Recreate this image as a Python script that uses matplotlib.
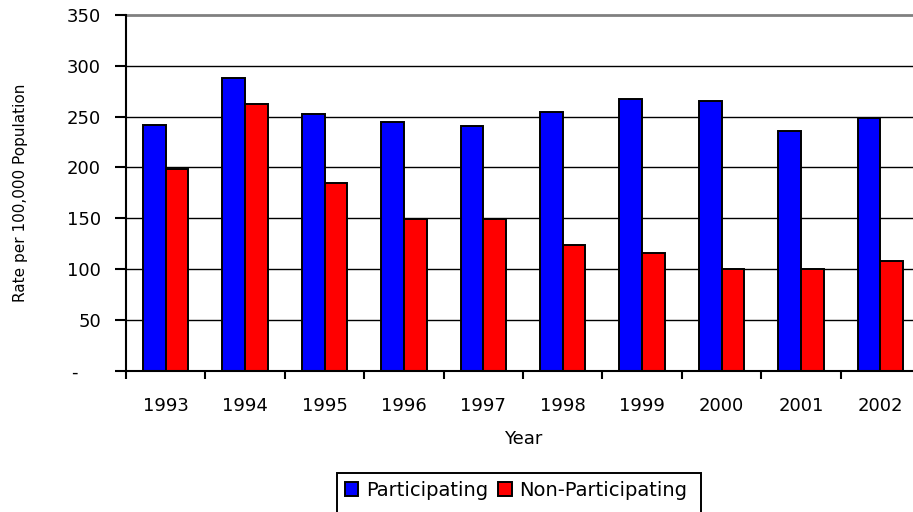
import matplotlib
matplotlib.use('Agg')
import matplotlib.pyplot as plt
from matplotlib.patches import Rectangle
import numpy as np

plt.rcParams['font.family'] = ['DejaVu Sans']

# Rates per 100,000 population by year
years = ['1993', '1994', '1995', '1996', '1997', '1998', '1999', '2000', '2001', '2002']
participating = [242, 288, 253, 245, 241, 255, 267, 265, 236, 249]
non_participating = [198, 262, 185, 149, 149, 124, 116, 100, 100, 108]

y_ticks = [0, 50, 100, 150, 200, 250, 300, 350]
y_tick_labels = ['-    ', '50', '100', '150', '200', '250', '300', '350']

W, H = 913, 512
fig = plt.figure(figsize=(W / 100, H / 100), dpi=100)
# plot area runs slightly past the right edge of the canvas
ax = fig.add_axes([126 / W, 1 - 370.7 / H, 794 / W, (370.7 - 15) / H])

x = np.arange(len(years))
bw = 1 / 3.5
ax.bar(x - bw / 2, participating, bw, color='#0000ff', edgecolor='black',
       linewidth=1.4, label='Participating', zorder=3)
ax.bar(x + bw / 2, non_participating, bw, color='#ff0000', edgecolor='black',
       linewidth=1.4, label='Non-Participating', zorder=3)

ax.set_xlim(-0.5, len(years) - 0.5)
ax.set_ylim(0, 350)

# gridlines; the top one is grey like the plot-area border
for v in y_ticks[1:-1]:
    ax.axhline(v, color='black', linewidth=1, zorder=1)
ax.axhline(350, color='#808080', linewidth=2, zorder=1, clip_on=False)

for s in ['top', 'right']:
    ax.spines[s].set_visible(False)
for s in ['left', 'bottom']:
    ax.spines[s].set_linewidth(1.5)
    ax.spines[s].set_zorder(4)

ax.set_yticks(y_ticks)
ax.set_yticklabels(y_tick_labels)
ax.set_xticks(x)
ax.set_xticklabels(years)
ax.set_xticks(np.arange(len(years) + 1) - 0.5, minor=True)
ax.tick_params(axis='x', which='major', length=0, pad=19, labelsize=13)
ax.tick_params(axis='x', which='minor', length=6, width=1.5, direction='out')
ax.tick_params(axis='y', length=8, width=1.5, direction='out', pad=10, labelsize=13)

ax.set_xlabel('Year', fontsize=13, labelpad=11)
ax.set_ylabel('Rate per 100,000 Population', fontsize=11)
ax.yaxis.set_label_coords((28 - 126) / 794, 0.5)

leg = fig.legend(loc='upper left', bbox_to_anchor=(337 / W, 1 - 473 / H),
                 ncol=2, fontsize=14, frameon=False,
                 handlelength=0.7, handleheight=0.7,
                 handletextpad=0.4, columnspacing=0.5, borderpad=0.4,
                 borderaxespad=0)

# legend box runs off the bottom of the canvas
fig.canvas.draw()
bb = leg.get_window_extent()
fig.patches.append(Rectangle((bb.x0, -10), bb.width + 6, bb.y1 + 10,
                             transform=None, fill=False, edgecolor='black',
                             linewidth=1.4))

fig.savefig('out.png', dpi=100)
